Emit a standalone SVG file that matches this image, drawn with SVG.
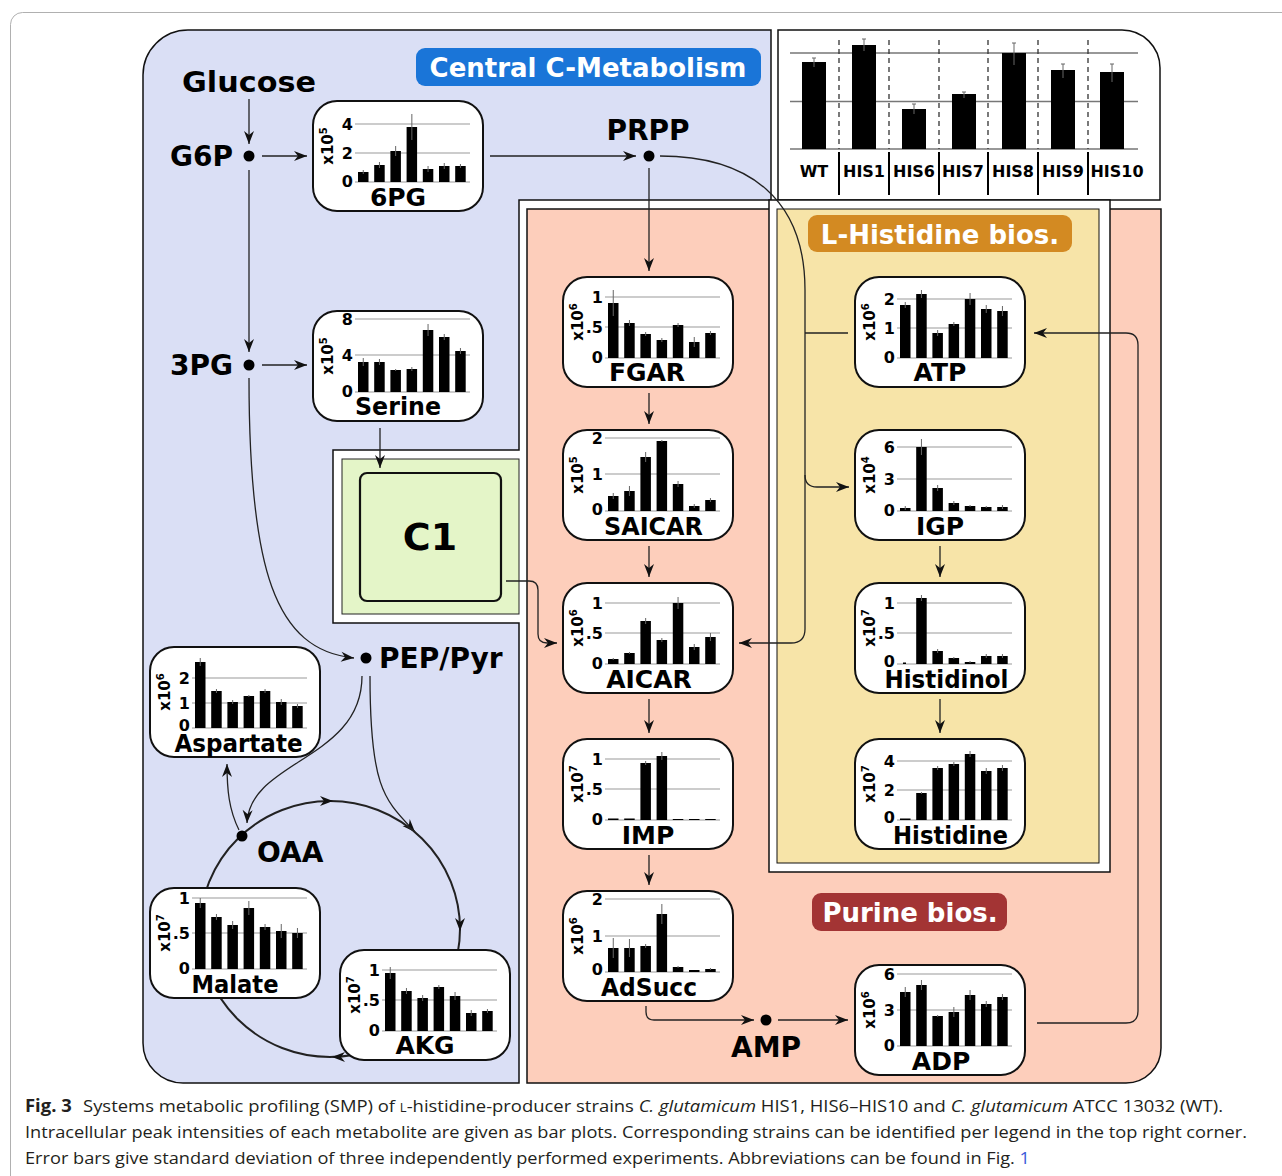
<svg xmlns="http://www.w3.org/2000/svg" width="1282" height="1176" viewBox="0 0 1282 1176">
<defs>
<style>
.box{fill:#fff;stroke:#111;stroke-width:2}
.grid{fill:none;stroke:#9a9a9a;stroke-width:1.2}
.bars{fill:#000}
.err{fill:none;stroke:#666;stroke-width:1}
.tk{font-family:'DejaVu Sans',Verdana,sans-serif;font-weight:bold;font-size:16px;text-anchor:end;fill:#000}
.ex{font-family:'DejaVu Sans',Verdana,sans-serif;font-weight:bold;font-size:15px;text-anchor:middle;fill:#000}
.sp{font-size:10px}
.lb{font-family:'DejaVu Sans',Verdana,sans-serif;font-weight:bold;font-size:25px;text-anchor:middle;fill:#000}
.met{font-family:'DejaVu Sans',Verdana,sans-serif;font-weight:bold;font-size:28px;fill:#000}
.tag{font-family:'DejaVu Sans',Verdana,sans-serif;font-weight:bold;font-size:26px;fill:#fff;text-anchor:middle}
.leg{font-family:'DejaVu Sans',Verdana,sans-serif;font-weight:bold;font-size:16px;text-anchor:middle;fill:#000}
.cap{font-family:'Open Sans','Noto Sans',sans-serif;font-size:17px;fill:#231f20}
.dot{fill:#000}
</style>
<marker id="ah" viewBox="-14 -6 15 12" refX="0" refY="0" markerWidth="15" markerHeight="12" orient="auto" markerUnits="userSpaceOnUse">
<path d="M0,0 L-13,-5 L-9,0 L-13,5 Z" fill="#111"/>
</marker>
</defs>
<rect width="1282" height="1176" fill="#fff"/>
<rect x="10.5" y="12.5" width="1300" height="1200" rx="12" fill="none" stroke="#b0b0b0" stroke-width="1"/>

<g id="regions">
<path id="central" d="M188,30 H771 V200 H519 V450 H333 V623 H519 V1083 H183 A40,40 0 0 1 143,1043 V75 A45,45 0 0 1 188,30 Z" fill="#dadff5" stroke="#111" stroke-width="1.5"/>
<path id="legend-box" d="M778,30 H1122 A38,38 0 0 1 1160,68 V200 H778 Z" fill="#fff" stroke="#111" stroke-width="1.5"/>
<path id="purine" d="M527,209 H1161 V1048 A35,35 0 0 1 1126,1083 H527 Z" fill="#fdcebb" stroke="#111" stroke-width="1.5"/>
<rect x="769" y="200" width="341" height="672" fill="#fff" stroke="#111" stroke-width="1.5"/>
<rect id="histidine-region" x="777" y="209" width="322" height="654" fill="#f7e4a8" stroke="#111" stroke-width="1"/>
<rect x="342" y="459" width="177" height="155" fill="#e4f5c8" stroke="#222" stroke-width="1"/>
</g>

<g id="region-labels">
<rect x="416" y="48" width="345" height="38" rx="9" fill="#1a75d8"/>
<text class="tag" x="588" y="77" font-size="27">Central C-Metabolism</text>
<rect x="808" y="215" width="264" height="37" rx="9" fill="#d38a22"/>
<text class="tag" x="940" y="244">L-Histidine bios.</text>
<rect x="812" y="893" width="195" height="38" rx="9" fill="#a33434"/>
<text class="tag" x="910" y="922">Purine bios.</text>
</g>

<g id="connectors" fill="none" stroke="#222" stroke-width="1.3">
<path d="M249,99 V144" marker-end="url(#ah)"/>
<path d="M262,156 H307" marker-end="url(#ah)"/>
<path d="M249,170 V352" marker-end="url(#ah)"/>
<path d="M262,365 H307" marker-end="url(#ah)"/>
<path d="M490,156 H636" marker-end="url(#ah)"/>
<path d="M649,168 V271" marker-end="url(#ah)"/>
<path d="M660,156 C750,156 805,200 805,290 V629 Q805,643 791,643 H739" marker-end="url(#ah)"/>
<path d="M848,333 H805"/>
<path d="M805,475 Q805,487 817,487 H849" marker-end="url(#ah)"/>
<path d="M506,581 H529 Q538,581 538,590 V634 Q538,643 547,643 H557" marker-end="url(#ah)"/>
<path d="M380,428 V468" marker-end="url(#ah)"/>
<path d="M649,393 V424" marker-end="url(#ah)"/>
<path d="M649,546 V577" marker-end="url(#ah)"/>
<path d="M649,699 V733" marker-end="url(#ah)"/>
<path d="M649,855 V885" marker-end="url(#ah)"/>
<path d="M940,546 V577" marker-end="url(#ah)"/>
<path d="M940,699 V733" marker-end="url(#ah)"/>
<path d="M646,1006 V1012 Q646,1020 654,1020 H754" marker-end="url(#ah)"/>
<path d="M778,1020 H848" marker-end="url(#ah)"/>
<path d="M1037,1023 H1126 Q1138,1023 1138,1011 V345 Q1138,333 1126,333 H1034" marker-end="url(#ah)"/>
<path d="M249,378 C249,570 275,650 354,658" marker-end="url(#ah)"/>
<path d="M362,676 C362,760 250,760 247,823" marker-end="url(#ah)"/>
<path d="M370,676 C370,790 385,800 415,832" marker-end="url(#ah)"/>
<path d="M239,830 C229,810 227,790 227,764" marker-end="url(#ah)"/>
<ellipse cx="330" cy="929" rx="130" ry="128" stroke-width="2"/>
<path d="M0,0 L-13,-5 L-9,0 L-13,5 Z" fill="#111" stroke="none" transform="translate(333,801)"/>
<path d="M0,0 L-13,-5 L-9,0 L-13,5 Z" fill="#111" stroke="none" transform="translate(460,931) rotate(90)"/>
<path d="M0,0 L-13,-5 L-9,0 L-13,5 Z" fill="#111" stroke="none" transform="translate(332,1057) rotate(180)"/>
</g>

<g id="c1">
<rect x="360" y="473" width="141" height="128" rx="7" fill="#e4f5c8" stroke="#111" stroke-width="2.2"/>
<text x="430" y="550" font-family="'DejaVu Sans',Verdana,sans-serif" font-weight="bold" font-size="38" text-anchor="middle">C1</text>
</g>

<g id="metabolite-points">
<text class="met" x="249" y="92" font-size="31" text-anchor="middle" textLength="134" lengthAdjust="spacingAndGlyphs">Glucose</text>
<g id="g6p"><circle class="dot" cx="249" cy="156" r="5.5"/><text class="met" x="170" y="166">G6P</text></g>
<g id="pg3"><circle class="dot" cx="249" cy="365" r="5.5"/><text class="met" x="170" y="375">3PG</text></g>
<g id="prpp"><circle class="dot" cx="649" cy="156" r="5.5"/><text class="met" x="648" y="140" text-anchor="middle">PRPP</text></g>
<g id="peppyr"><circle class="dot" cx="366" cy="658" r="5.5"/><text class="met" x="379" y="668">PEP/Pyr</text></g>
<g id="oaa"><circle class="dot" cx="242" cy="836" r="5.5"/><text class="met" x="257" y="862">OAA</text></g>
<g id="amp"><circle class="dot" cx="766" cy="1020" r="5.5"/><text class="met" x="766" y="1057" text-anchor="middle">AMP</text></g>
</g>

<g id="n-6pg" transform="translate(313,101)">
<rect class="box" width="170" height="110" rx="24"/>
<path class="grid" d="M42,23H157M42,52H157M42,81H157"/>
<text class="tk" x="40" y="28.5">4</text><text class="tk" x="40" y="57.5">2</text><text class="tk" x="40" y="86">0</text>
<text class="ex" transform="translate(20,45) rotate(-90)">x10<tspan class="sp" dy="-6">5</tspan></text>
<path class="bars" d="M45,71h10.5V81h-10.5ZM61.2,64h10.5V81h-10.5ZM77.4,50h10.5V81h-10.5ZM93.6,26h10.5V81h-10.5ZM109.8,68h10.5V81h-10.5ZM126,65h10.5V81h-10.5ZM142.2,65h10.5V81h-10.5Z"/>
<path class="err" d="M50.25,69v4M66.45,61v6M82.65,45v10M98.85,13v26M115.05,65v6M131.25,62v6M147.45,63v4"/>
<text class="lb" x="85" y="105">6PG</text>
</g>

<g id="n-serine" transform="translate(313,311)">
<rect class="box" width="170" height="110" rx="24"/>
<path class="grid" d="M42,8H157M42,44H157M42,81H157"/>
<text class="tk" x="40" y="13.5">8</text><text class="tk" x="40" y="49.5">4</text><text class="tk" x="40" y="86">0</text>
<text class="ex" transform="translate(20,45) rotate(-90)">x10<tspan class="sp" dy="-6">5</tspan></text>
<path class="bars" d="M45,51h10.5V81h-10.5ZM61.2,51h10.5V81h-10.5ZM77.4,59h10.5V81h-10.5ZM93.6,58h10.5V81h-10.5ZM109.8,19h10.5V81h-10.5ZM126,26h10.5V81h-10.5ZM142.2,40h10.5V81h-10.5Z"/>
<path class="err" d="M50.25,47v8M66.45,48v6M82.65,58v2M98.85,56v4M115.05,13v12M131.25,23v6M147.45,37v6"/>
<text class="lb" x="85" y="104" textLength="86" lengthAdjust="spacingAndGlyphs">Serine</text>
</g>

<g id="n-fgar" transform="translate(563,277)">
<rect class="box" width="170" height="110" rx="24"/>
<path class="grid" d="M42,20H157M42,50H157M42,81H157"/>
<text class="tk" x="40" y="25.5">1</text><text class="tk" x="40" y="55.5">.5</text><text class="tk" x="40" y="86">0</text>
<text class="ex" transform="translate(20,45) rotate(-90)">x10<tspan class="sp" dy="-6">6</tspan></text>
<path class="bars" d="M45,26h10.5V81h-10.5ZM61.2,46h10.5V81h-10.5ZM77.4,57h10.5V81h-10.5ZM93.6,63h10.5V81h-10.5ZM109.8,48h10.5V81h-10.5ZM126,65h10.5V81h-10.5ZM142.2,56h10.5V81h-10.5Z"/>
<path class="err" d="M50.25,13v26M66.45,43v6M82.65,55v4M98.85,61v4M115.05,46v4M131.25,60v10M147.45,54v4"/>
<text class="lb" x="84" y="104">FGAR</text>
</g>

<g id="n-atp" transform="translate(855,277)">
<rect class="box" width="170" height="110" rx="24"/>
<path class="grid" d="M42,22H157M42,51H157M42,81H157"/>
<text class="tk" x="40" y="27.5">2</text><text class="tk" x="40" y="56.5">1</text><text class="tk" x="40" y="86">0</text>
<text class="ex" transform="translate(20,45) rotate(-90)">x10<tspan class="sp" dy="-6">6</tspan></text>
<path class="bars" d="M45,28h10.5V81h-10.5ZM61.2,17h10.5V81h-10.5ZM77.4,56h10.5V81h-10.5ZM93.6,47h10.5V81h-10.5ZM109.8,22h10.5V81h-10.5ZM126,32h10.5V81h-10.5ZM142.2,34h10.5V81h-10.5Z"/>
<path class="err" d="M50.25,25v6M66.45,13v8M82.65,53v6M98.85,45v4M115.05,16v12M131.25,28v8M147.45,29v10"/>
<text class="lb" x="85" y="104">ATP</text>
</g>

<g id="n-saicar" transform="translate(563,430)">
<rect class="box" width="170" height="110" rx="24"/>
<path class="grid" d="M42,8H157M42,44H157M42,81H157"/>
<text class="tk" x="40" y="13.5">2</text><text class="tk" x="40" y="49.5">1</text><text class="tk" x="40" y="85">0</text>
<text class="ex" transform="translate(20,45) rotate(-90)">x10<tspan class="sp" dy="-6">5</tspan></text>
<path class="bars" d="M45,66h10.5V81h-10.5ZM61.2,61h10.5V81h-10.5ZM77.4,27h10.5V81h-10.5ZM93.6,11h10.5V81h-10.5ZM109.8,54h10.5V81h-10.5ZM126,76h10.5V81h-10.5ZM142.2,70h10.5V81h-10.5Z"/>
<path class="err" d="M50.25,63v6M66.45,56v10M82.65,22v10M98.85,10v2M115.05,51v6M131.25,74v4M147.45,68v4"/>
<text class="lb" x="90.5" y="105" textLength="99" lengthAdjust="spacingAndGlyphs">SAICAR</text>
</g>

<g id="n-aicar" transform="translate(563,583)">
<rect class="box" width="170" height="110" rx="24"/>
<path class="grid" d="M42,20H157M42,50H157M42,81H157"/>
<text class="tk" x="40" y="25.5">1</text><text class="tk" x="40" y="55.5">.5</text><text class="tk" x="40" y="86">0</text>
<text class="ex" transform="translate(20,45) rotate(-90)">x10<tspan class="sp" dy="-6">6</tspan></text>
<path class="bars" d="M45,76h10.5V81h-10.5ZM61.2,70h10.5V81h-10.5ZM77.4,38h10.5V81h-10.5ZM93.6,57h10.5V81h-10.5ZM109.8,20h10.5V81h-10.5ZM126,64h10.5V81h-10.5ZM142.2,54h10.5V81h-10.5Z"/>
<path class="err" d="M50.25,75v2M66.45,69v2M82.65,35v6M98.85,55v4M115.05,14v12M131.25,61v6M147.45,50v8"/>
<text class="lb" x="86" y="105">AICAR</text>
</g>

<g id="n-igp" transform="translate(855,430)">
<rect class="box" width="170" height="110" rx="24"/>
<path class="grid" d="M42,17H157M42,49H157M42,81H157"/>
<text class="tk" x="40" y="22.5">6</text><text class="tk" x="40" y="54.5">3</text><text class="tk" x="40" y="86">0</text>
<text class="ex" transform="translate(20,45) rotate(-90)">x10<tspan class="sp" dy="-6">4</tspan></text>
<path class="bars" d="M45,78h10.5V81h-10.5ZM61.2,17h10.5V81h-10.5ZM77.4,58h10.5V81h-10.5ZM93.6,73h10.5V81h-10.5ZM109.8,76h10.5V81h-10.5ZM126,77h10.5V81h-10.5ZM142.2,77h10.5V81h-10.5Z"/>
<path class="err" d="M50.25,76v4M66.45,9v16M82.65,55v6M98.85,71v4M115.05,75v2M131.25,76v2M147.45,75v4"/>
<text class="lb" x="85" y="105">IGP</text>
</g>

<g id="n-histidinol" transform="translate(855,583)">
<rect class="box" width="170" height="110" rx="24"/>
<path class="grid" d="M42,20H157M42,50H157M42,81H157"/>
<text class="tk" x="40" y="25.5">1</text><text class="tk" x="40" y="55.5">.5</text><text class="tk" x="40" y="84">0</text>
<text class="ex" transform="translate(20,45) rotate(-90)">x10<tspan class="sp" dy="-6">7</tspan></text>
<path class="bars" d="M48,79.5h3V81h-3ZM61.2,15h10.5V81h-10.5ZM77.4,68h10.5V81h-10.5ZM93.6,75h10.5V81h-10.5ZM109.8,79h10.5V81h-10.5ZM126,73h10.5V81h-10.5ZM142.2,73h10.5V81h-10.5Z"/>
<path class="err" d="M66.45,12v6M82.65,66v4M98.85,74v2M115.05,78v2M131.25,71v4M147.45,71v4"/>
<text class="lb" x="91.5" y="105" textLength="124" lengthAdjust="spacingAndGlyphs">Histidinol</text>
</g>

<g id="n-histidine" transform="translate(855,739)">
<rect class="box" width="170" height="110" rx="24"/>
<path class="grid" d="M42,22H157M42,51H157M42,81H157"/>
<text class="tk" x="40" y="27.5">4</text><text class="tk" x="40" y="56.5">2</text><text class="tk" x="40" y="84">0</text>
<text class="ex" transform="translate(20,45) rotate(-90)">x10<tspan class="sp" dy="-6">7</tspan></text>
<path class="bars" d="M45,79.5h10.5V81h-10.5ZM61.2,54h10.5V81h-10.5ZM77.4,29h10.5V81h-10.5ZM93.6,25h10.5V81h-10.5ZM109.8,15h10.5V81h-10.5ZM126,32h10.5V81h-10.5ZM142.2,29h10.5V81h-10.5Z"/>
<path class="err" d="M66.45,53v2M82.65,27v4M98.85,23v4M115.05,12v6M131.25,29v6M147.45,26v6"/>
<text class="lb" x="95.5" y="105" textLength="115" lengthAdjust="spacingAndGlyphs">Histidine</text>
</g>

<g id="n-imp" transform="translate(563,739)">
<rect class="box" width="170" height="110" rx="24"/>
<path class="grid" d="M42,20H157M42,50H157M42,81H157"/>
<text class="tk" x="40" y="25.5">1</text><text class="tk" x="40" y="55.5">.5</text><text class="tk" x="40" y="86">0</text>
<text class="ex" transform="translate(20,45) rotate(-90)">x10<tspan class="sp" dy="-6">7</tspan></text>
<path class="bars" d="M45,79.5h10.5V81h-10.5ZM61.2,79.5h10.5V81h-10.5ZM77.4,24h10.5V81h-10.5ZM93.6,17h10.5V81h-10.5ZM109.8,80h10.5V81h-10.5ZM126,80h10.5V81h-10.5ZM142.2,80h10.5V81h-10.5Z"/>
<path class="err" d="M82.65,22v4M98.85,13v8"/>
<text class="lb" x="85" y="105">IMP</text>
</g>

<g id="n-adsucc" transform="translate(563,891)">
<rect class="box" width="170" height="110" rx="24"/>
<path class="grid" d="M42,8H157M42,45H157M42,81H157"/>
<text class="tk" x="40" y="13.5">2</text><text class="tk" x="40" y="50.5">1</text><text class="tk" x="40" y="84">0</text>
<text class="ex" transform="translate(20,45) rotate(-90)">x10<tspan class="sp" dy="-6">6</tspan></text>
<path class="bars" d="M45,57h10.5V81h-10.5ZM61.2,57h10.5V81h-10.5ZM77.4,55h10.5V81h-10.5ZM93.6,23h10.5V81h-10.5ZM109.8,76h10.5V81h-10.5ZM126,79h10.5V81h-10.5ZM142.2,78h10.5V81h-10.5Z"/>
<path class="err" d="M50.25,47v20M66.45,48v18M82.65,53v4M98.85,13v20M115.05,75v2M147.45,77v2"/>
<text class="lb" x="86" y="105" textLength="96" lengthAdjust="spacingAndGlyphs">AdSucc</text>
</g>

<g id="n-adp" transform="translate(855,965)">
<rect class="box" width="170" height="110" rx="24"/>
<path class="grid" d="M42,9H157M42,45H157M42,81H157"/>
<text class="tk" x="40" y="14.5">6</text><text class="tk" x="40" y="50.5">3</text><text class="tk" x="40" y="86">0</text>
<text class="ex" transform="translate(20,45) rotate(-90)">x10<tspan class="sp" dy="-6">6</tspan></text>
<path class="bars" d="M45,27h10.5V81h-10.5ZM61.2,20h10.5V81h-10.5ZM77.4,51h10.5V81h-10.5ZM93.6,47h10.5V81h-10.5ZM109.8,30h10.5V81h-10.5ZM126,39h10.5V81h-10.5ZM142.2,32h10.5V81h-10.5Z"/>
<path class="err" d="M50.25,22v10M66.45,15v10M82.65,50v2M98.85,42v10M115.05,25v10M131.25,36v6M147.45,29v6"/>
<text class="lb" x="86" y="105">ADP</text>
</g>

<g id="n-aspartate" transform="translate(150,647)">
<rect class="box" width="170" height="110" rx="24"/>
<path class="grid" d="M42,31H157M42,56H157M42,81H157"/>
<text class="tk" x="40" y="36.5">2</text><text class="tk" x="40" y="61.5">1</text><text class="tk" x="40" y="84">0</text>
<text class="ex" transform="translate(20,45) rotate(-90)">x10<tspan class="sp" dy="-6">6</tspan></text>
<path class="bars" d="M45,15h10.5V81h-10.5ZM61.2,44h10.5V81h-10.5ZM77.4,55h10.5V81h-10.5ZM93.6,49h10.5V81h-10.5ZM109.8,44h10.5V81h-10.5ZM126,55h10.5V81h-10.5ZM142.2,59h10.5V81h-10.5Z"/>
<path class="err" d="M50.25,11v8M66.45,42v4M82.65,53v4M98.85,48v2M115.05,42v4M131.25,52v6M147.45,57v4"/>
<text class="lb" x="88.5" y="105" textLength="128" lengthAdjust="spacingAndGlyphs">Aspartate</text>
</g>

<g id="n-malate" transform="translate(150,888)">
<rect class="box" width="170" height="110" rx="24"/>
<path class="grid" d="M42,10H157M42,45H157M42,81H157"/>
<text class="tk" x="40" y="15.5">1</text><text class="tk" x="40" y="50.5">.5</text><text class="tk" x="40" y="86">0</text>
<text class="ex" transform="translate(20,45) rotate(-90)">x10<tspan class="sp" dy="-6">7</tspan></text>
<path class="bars" d="M45,15h10.5V81h-10.5ZM61.2,29h10.5V81h-10.5ZM77.4,37h10.5V81h-10.5ZM93.6,20h10.5V81h-10.5ZM109.8,39h10.5V81h-10.5ZM126,43h10.5V81h-10.5ZM142.2,45h10.5V81h-10.5Z"/>
<path class="err" d="M50.25,10v10M66.45,26v6M82.65,33v8M98.85,13v14M115.05,36v6M131.25,36v14M147.45,40v10"/>
<text class="lb" x="85" y="105" textLength="87" lengthAdjust="spacingAndGlyphs">Malate</text>
</g>

<g id="n-akg" transform="translate(340,950)">
<rect class="box" width="170" height="110" rx="24"/>
<path class="grid" d="M42,20H157M42,50H157M42,81H157"/>
<text class="tk" x="40" y="25.5">1</text><text class="tk" x="40" y="55.5">.5</text><text class="tk" x="40" y="86">0</text>
<text class="ex" transform="translate(20,45) rotate(-90)">x10<tspan class="sp" dy="-6">7</tspan></text>
<path class="bars" d="M45,23h10.5V81h-10.5ZM61.2,41h10.5V81h-10.5ZM77.4,48h10.5V81h-10.5ZM93.6,37h10.5V81h-10.5ZM109.8,46h10.5V81h-10.5ZM126,63h10.5V81h-10.5ZM142.2,61h10.5V81h-10.5Z"/>
<path class="err" d="M50.25,17v12M66.45,38v6M82.65,45v6M98.85,35v4M115.05,42v8M131.25,60v6M147.45,59v4"/>
<text class="lb" x="85" y="104">AKG</text>
</g>

<g id="legend">
<path d="M790,53H1138M790,101.5H1138M790,149H1138" fill="none" stroke="#777" stroke-width="1.3"/>
<path d="M802,62h24V149h-24ZM852,45h24V149h-24ZM902,109h24V149h-24ZM952,94h24V149h-24ZM1002,53h24V149h-24ZM1051,70h24V149h-24ZM1100,72h24V149h-24Z" fill="#000"/>
<path d="M814,58V67M812,58h4M864,39V51M862,39h4M914,104V114M912,104h4M964,92V98M962,92h4M1014,43V65M1012,43h4M1063,64V78M1061,64h4M1112,64V82M1110,64h4" fill="none" stroke="#666" stroke-width="1"/>
<path d="M839,40V149M889,40V149M939,40V149M988,40V149M1038,40V149M1088,40V149" fill="none" stroke="#333" stroke-width="1.3" stroke-dasharray="5 4"/>
<path d="M839,152V195M889,152V195M939,152V195M988,152V195M1038,152V195M1088,152V195" fill="none" stroke="#000" stroke-width="2"/>
<text class="leg" x="814" y="177">WT</text>
<text class="leg" x="864" y="177">HIS1</text>
<text class="leg" x="914" y="177">HIS6</text>
<text class="leg" x="963" y="177">HIS7</text>
<text class="leg" x="1013" y="177">HIS8</text>
<text class="leg" x="1063" y="177">HIS9</text>
<text class="leg" x="1117" y="177">HIS10</text>
</g>

<g id="caption">
<text class="cap" x="25" y="1112" textLength="1198" lengthAdjust="spacingAndGlyphs"><tspan font-weight="bold">Fig. 3</tspan><tspan dx="6"> Systems metabolic profiling (SMP) of </tspan><tspan font-variant="small-caps">l</tspan>-histidine-producer strains <tspan font-style="italic">C. glutamicum</tspan> HIS1, HIS6–HIS10 and <tspan font-style="italic">C. glutamicum</tspan> ATCC 13032 (WT).</text>
<text class="cap" x="25" y="1138" textLength="1222" lengthAdjust="spacingAndGlyphs">Intracellular peak intensities of each metabolite are given as bar plots. Corresponding strains can be identified per legend in the top right corner.</text>
<text class="cap" x="25" y="1164" textLength="1005" lengthAdjust="spacingAndGlyphs">Error bars give standard deviation of three independently performed experiments. Abbreviations can be found in Fig. <tspan fill="#3b5bd9">1</tspan></text>
</g>
</svg>
